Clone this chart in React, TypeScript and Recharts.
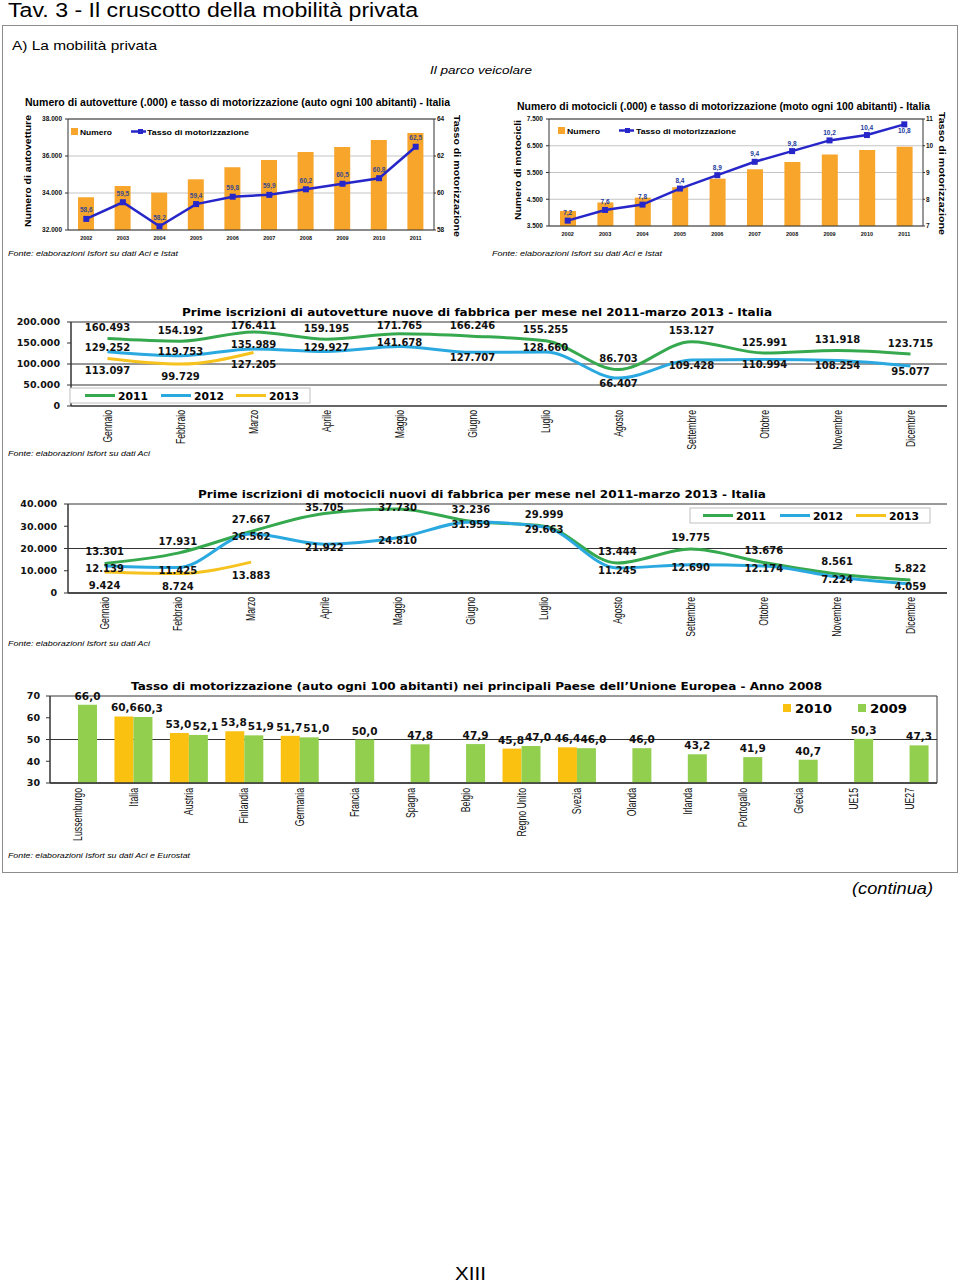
import React from 'react';
import { ComposedChart, BarChart, Bar, Line, XAxis, YAxis, CartesianGrid, LabelList, ReferenceLine } from 'recharts';

// ---------- DATA ----------
const anni = ['2002', '2003', '2004', '2005', '2006', '2007', '2008', '2009', '2010', '2011'];
const autoNumero = [33770, 34380, 34020, 34740, 35390, 35780, 36220, 36490, 36870, 37240];
const autoTasso = [58.6, 59.5, 58.2, 59.4, 59.8, 59.9, 60.2, 60.5, 60.8, 62.5];
const motoNumero = [4060, 4380, 4560, 4950, 5270, 5620, 5890, 6170, 6340, 6460];
const motoTasso = [7.2, 7.6, 7.8, 8.4, 8.9, 9.4, 9.8, 10.2, 10.4, 10.8];
const autoTicksSx = [32000, 34000, 36000, 38000];
const autoTicksDx = [58, 60, 62, 64];
const motoTicksSx = [3500, 4500, 5500, 6500, 7500];
const motoTicksDx = [7, 8, 9, 10, 11];

const mesi = ['Gennaio', 'Febbraio', 'Marzo', 'Aprile', 'Maggio', 'Giugno', 'Luglio', 'Agosto', 'Settembre', 'Ottobre', 'Novembre', 'Dicembre'];
const auto2011 = [160493, 154192, 176411, 159195, 171765, 166246, 155255, 86703, 153127, 125991, 131918, 123715];
const auto2012 = [129252, 119753, 135989, 129927, 141678, 127707, 128660, 66407, 109428, 110994, 108254, 95077];
const auto2013 = [113097, 99729, 127205];
const iscrAutoTicks = [0, 50000, 100000, 150000, 200000];
const iscrAutoGrid = [50000, 100000, 200000];
const moto2011 = [13301, 17931, 27667, 35705, 37730, 32236, 29999, 13444, 19775, 13676, 8561, 5822];
const moto2012 = [12139, 11425, 26562, 21922, 24810, 31959, 29663, 11245, 12690, 12174, 7224, 4059];
const moto2013 = [9424, 8724, 13883];
const iscrMotoTicks = [0, 10000, 20000, 30000, 40000];

const paesi = ['Lussemburgo', 'Italia', 'Austria', 'Finlandia', 'Germania', 'Francia', 'Spagna', 'Belgio', 'Regno Unito', 'Svezia', 'Olanda', 'Irlanda', 'Portogallo', 'Grecia', 'UE15', 'UE27'];
const tasso2010: (number | null)[] = [null, 60.6, 53.0, 53.8, 51.7, null, null, null, 45.8, 46.4, null, null, null, null, null, null];
const tasso2009 = [66.0, 60.3, 52.1, 51.9, 51.0, 50.0, 47.8, 47.9, 47.0, 46.0, 46.0, 43.2, 41.9, 40.7, 50.3, 47.3];
const paesiTicks = [30, 40, 50, 60, 70];

// ---------- HELPERS ----------
const F_SANS = "'Liberation Sans', Arial, sans-serif";
const F_VERD = "'DejaVu Sans', Verdana, sans-serif";

const C_ORANGE = '#F7A52B';
const C_BLUE_LINE = '#2626c9';
const C_GREEN = '#36a94f';
const C_CYAN = '#2aa9e0';
const C_YELLOW = '#f5c21e';
const C_BAR_GREEN = '#92cf4f';
const C_BAR_YELLOW = '#fbc110';

const fmtK = (v: number) => String(Math.round(v)).replace(/\B(?=(\d{3})+(?!\d))/g, '.');
const fmt1 = (v: number) => v.toFixed(1).replace('.', ',');

const parcoAuto = anni.map((a, i) => ({ anno: a, numero: autoNumero[i], tasso: autoTasso[i] }));
const parcoMoto = anni.map((a, i) => ({ anno: a, numero: motoNumero[i], tasso: motoTasso[i] }));
const iscrAuto = mesi.map((m, i) => ({ mese: m, a2011: auto2011[i], a2012: auto2012[i], a2013: auto2013[i] ?? null }));
const iscrMoto = mesi.map((m, i) => ({ mese: m, a2011: moto2011[i], a2012: moto2012[i], a2013: moto2013[i] ?? null }));
const tassoUE = paesi.map((p, i) => ({ paese: p, t2010: tasso2010[i], t2009: tasso2009[i] }));

const squareDot = (labelColor: string, belowIndex: number, above: number) => (p: any) => {
  const { cx, cy, index, value } = p;
  if (cx == null || cy == null) return <g key={`sq${index}`} />;
  const below = index === belowIndex;
  return (
    <g key={`sq${index}`}>
      <rect x={cx - 3} y={cy - 3} width={6} height={6} fill={C_BLUE_LINE} />
      <text x={cx} y={below ? cy + 9 : cy - above} textAnchor="middle" fontSize={6.5} fontWeight="bold" fontFamily={F_SANS} fill={labelColor}>
        {fmt1(Number(value))}
      </text>
    </g>
  );
};

const labelDot = (dyFor: (i: number) => number, minY: number) => (p: any) => {
  const { cx, cy, index, payload, dataKey } = p;
  const v = p.value ?? (payload ? payload[dataKey] : null);
  if (cx == null || cy == null || v == null || Number.isNaN(cy)) return <g key={`ld${index}`} />;
  return (
    <text key={`ld${index}`} x={cx} y={Math.max(minY, cy + dyFor(index))} textAnchor="middle" fontSize={10} fontWeight="bold" fontFamily={F_VERD} fill="#111">
      {fmtK(Number(v))}
    </text>
  );
};

// bar value label; the green (2009) label is nudged right when a 2010 bar sits beside it
const barLabel = (isGreen: boolean) => (p: any) => {
  const vb = p.viewBox || p;
  const x = vb.x ?? p.x;
  const y = vb.y ?? p.y;
  const w = vb.width ?? p.width ?? 0;
  const v = p.value;
  if (v == null || x == null || y == null || v === '') return null;
  const idx = p.index;
  const paired = typeof idx === 'number' && tasso2010[idx] != null;
  const dx = paired ? (isGreen ? 7 : -1) : 0;
  return (
    <text x={x + w / 2 + dx} y={y - 5} textAnchor="middle" fontSize={10.5} fontWeight="bold" fontFamily={F_VERD} fill="#111">
      {fmt1(Number(v))}
    </text>
  );
};

const RotTick = (p: any) => {
  const { x, y, payload, fontSize, sx } = p;
  return (
    <g transform={`translate(${x},${y}) rotate(-90)`}>
      <text x={0} y={0} transform={`scale(${sx},1)`} textAnchor="end" dy="0.35em" fontSize={fontSize} fontFamily={F_SANS} fill="#111">
        {payload.value}
      </text>
    </g>
  );
};

const T = ({ x, y, len, size, family = F_SANS, weight = 'normal', italic = false, anchor = 'start', rotate = 0, fill = '#000', children }: any) => (
  <text
    x={x}
    y={y}
    fontSize={size}
    fontFamily={family}
    fontWeight={weight}
    fontStyle={italic ? 'italic' : 'normal'}
    textLength={len}
    lengthAdjust="spacingAndGlyphs"
    textAnchor={anchor}
    transform={rotate ? `rotate(${rotate} ${x} ${y})` : undefined}
    fill={fill}
  >
    {children}
  </text>
);

const smallTick = { fontSize: 6.5, fontWeight: 'bold', fill: '#111', fontFamily: F_SANS };
const yearTick = { fontSize: 5.5, fontWeight: 'bold', fill: '#111', fontFamily: F_SANS };
const verdTick = { fontSize: 9.5, fontWeight: 'bold', fill: '#111', fontFamily: F_VERD };

// ---------- CHARTS ----------
function ParcoChart({ data, left, top, width, height, margin, ticksSx, ticksDx, wSx, wDx, labelColor, belowIndex, above }: any) {
  return (
    <div style={{ position: 'absolute', left, top }}>
      <ComposedChart width={width} height={height} data={data} margin={margin}>
        <CartesianGrid vertical={false} stroke="#c4c4c4" yAxisId="sx" />
        <XAxis dataKey="anno" interval={0} tickLine={false} axisLine={{ stroke: '#333' }} height={15} tickSize={3} tickMargin={3} tick={yearTick} />
        <YAxis yAxisId="sx" domain={[ticksSx[0], ticksSx[ticksSx.length - 1]]} ticks={ticksSx} width={wSx} tickFormatter={fmtK} tickSize={3} tickMargin={3} axisLine={{ stroke: '#333' }} tickLine={{ stroke: '#333' }} tick={smallTick} />
        <YAxis yAxisId="dx" orientation="right" domain={[ticksDx[0], ticksDx[ticksDx.length - 1]]} ticks={ticksDx} width={wDx} tickSize={2} tickMargin={1} axisLine={{ stroke: '#333' }} tickLine={{ stroke: '#333' }} tick={smallTick} />
        <ReferenceLine yAxisId="sx" y={ticksSx[ticksSx.length - 1]} stroke="#333" />
        <Bar yAxisId="sx" dataKey="numero" fill={C_ORANGE} barSize={16} isAnimationActive={false} />
        <Line yAxisId="dx" dataKey="tasso" type="linear" stroke={C_BLUE_LINE} strokeWidth={2.5} dot={squareDot(labelColor, belowIndex, above)} isAnimationActive={false} />
      </ComposedChart>
    </div>
  );
}

function IscrChart({ data, left, top, width, height, margin, xh, pad, ticks, yW, grid, dy11, dy12, dy13 }: any) {
  const minY = margin.top + 7;
  return (
    <div style={{ position: 'absolute', left, top }}>
      <ComposedChart width={width} height={height} data={data} margin={margin}>
        {grid ? grid.map((g: number) => <ReferenceLine key={g} y={g} stroke="#333" />) : <CartesianGrid vertical={false} stroke="#333" />}
        <XAxis dataKey="mese" interval={0} padding={{ left: pad, right: pad }} tickLine={false} tickSize={0} tickMargin={4} height={xh} axisLine={{ stroke: '#333', strokeWidth: 1.5 }} tick={<RotTick fontSize={12} sx={0.72} />} />
        <YAxis domain={[ticks[0], ticks[ticks.length - 1]]} ticks={ticks} width={yW} tickFormatter={fmtK} tickSize={4} tickMargin={7} axisLine={{ stroke: '#333', strokeWidth: 1.5 }} tickLine={{ stroke: '#333' }} tick={verdTick} />
        <Line dataKey="a2011" type="monotone" stroke={C_GREEN} strokeWidth={3} dot={labelDot(dy11, minY)} isAnimationActive={false} />
        <Line dataKey="a2012" type="monotone" stroke={C_CYAN} strokeWidth={3} dot={labelDot(dy12, minY)} isAnimationActive={false} />
        <Line dataKey="a2013" type="monotone" stroke={C_YELLOW} strokeWidth={3} dot={labelDot(dy13, minY)} isAnimationActive={false} />
      </ComposedChart>
    </div>
  );
}

function UEChart() {
  return (
    <div style={{ position: 'absolute', left: 0, top: 675 }}>
      <BarChart width={960} height={180} data={tassoUE} margin={{ top: 21, right: 23, bottom: 6, left: 10 }} barGap={0}>
        <CartesianGrid vertical={false} stroke="#333" />
        <XAxis dataKey="paese" interval={0} tickLine={false} tickSize={0} tickMargin={5} height={66} axisLine={{ stroke: '#333', strokeWidth: 1.5 }} tick={<RotTick fontSize={12.5} sx={0.7} />} />
        <YAxis domain={[30, 70]} ticks={paesiTicks} width={40} tickSize={4} tickMargin={6} axisLine={{ stroke: '#333', strokeWidth: 1.5 }} tickLine={{ stroke: '#333' }} tick={verdTick} />
        <ReferenceLine x="UE27" position="end" stroke="#333" />
        <Bar dataKey="t2010" fill={C_BAR_YELLOW} barSize={19} isAnimationActive={false}>
          <LabelList dataKey="t2010" content={barLabel(false)} />
        </Bar>
        <Bar dataKey="t2009" fill={C_BAR_GREEN} barSize={19} isAnimationActive={false}>
          <LabelList dataKey="t2009" content={barLabel(true)} />
        </Bar>
      </BarChart>
    </div>
  );
}

const SeriesLegend = ({ x, y, w, h, items }: any) => (
  <g>
    <rect x={x} y={y} width={w} height={h} fill="#fff" stroke="#c0c0c0" />
    {items.map((it: any) => (
      <g key={it.label}>
        <line x1={it.lx} x2={it.lx + 30} y1={y + h / 2} y2={y + h / 2} stroke={it.color} strokeWidth={3} />
        <T x={it.lx + 33} y={y + h / 2 + 4} len={30} size={10.5} family={F_VERD} weight="bold">{it.label}</T>
      </g>
    ))}
  </g>
);

export default function App() {
  return (
    <div style={{ position: 'absolute', left: 0, top: 0, width: 960, height: 1283, background: '#fff', overflow: 'hidden' }}>
      <ParcoChart
        data={parcoAuto}
        left={0}
        top={90}
        width={470}
        height={160}
        margin={{ top: 29, right: 18, bottom: 5, left: 28 }}
        ticksSx={autoTicksSx}
        ticksDx={autoTicksDx}
        wSx={40}
        wDx={18}
        labelColor="#3b4a8c"
        belowIndex={-1}
        above={6.5}
      />
      <ParcoChart
        data={parcoMoto}
        left={490}
        top={95}
        width={465}
        height={150}
        margin={{ top: 24, right: 16, bottom: 4, left: 19 }}
        ticksSx={motoTicksSx}
        ticksDx={motoTicksDx}
        wSx={40}
        wDx={16}
        labelColor="#1c3a9c"
        belowIndex={9}
        above={5.5}
      />
      <IscrChart
        data={iscrAuto}
        left={0}
        top={300}
        width={960}
        height={155}
        margin={{ top: 22, right: 13, bottom: 4, left: 10 }}
        xh={45}
        pad={36.5}
        ticks={iscrAutoTicks}
        yW={61}
        grid={iscrAutoGrid}
        dy11={() => -7.5}
        dy12={(i: number) => (i <= 4 || i === 6 ? -0.5 : 8.5)}
        dy13={() => 15.5}
      />
      <IscrChart
        data={iscrMoto}
        left={0}
        top={480}
        width={960}
        height={165}
        margin={{ top: 24, right: 13, bottom: 4, left: 8 }}
        xh={48}
        pad={36.6}
        ticks={iscrMotoTicks}
        yW={60}
        grid={null}
        dy11={() => -8.5}
        dy12={() => 6.5}
        dy13={() => 16.5}
      />
      <UEChart />

      <svg width={960} height={1283} style={{ position: 'absolute', left: 0, top: 0, pointerEvents: 'none' }}>
        <T x={8} y={17} len={410} size={20}>Tav. 3 - Il cruscotto della mobilità privata</T>
        <rect x={2.5} y={25.5} width={955} height={847} fill="none" stroke="#8c8c8c" />
        <T x={12} y={50} len={145} size={13}>A) La mobilità privata</T>
        <T x={430} y={74} len={102} size={11.5} italic>Il parco veicolare</T>

        {/* Chart 1 texts */}
        <T x={25} y={106} len={425} size={11} weight="bold">Numero di autovetture (.000) e tasso di motorizzazione (auto ogni 100 abitanti) - Italia</T>
        <T x={31} y={227} len={112} size={9.5} weight="bold" rotate={-90}>Numero di autovetture</T>
        <T x={454} y={115} len={122} size={9.5} weight="bold" rotate={90}>Tasso di motorizzazione</T>
        <rect x={71} y={128} width={7} height={7} fill={C_ORANGE} />
        <T x={80} y={134.5} len={32} size={8} weight="bold">Numero</T>
        <line x1={131} x2={146} y1={131.5} y2={131.5} stroke={C_BLUE_LINE} strokeWidth={2.5} />
        <rect x={138} y={129} width={5} height={5} fill={C_BLUE_LINE} />
        <T x={147} y={134.5} len={102} size={8} weight="bold">Tasso di motorizzazione</T>
        <T x={8} y={256} len={170} size={8} italic>Fonte: elaborazioni Isfort su dati Aci e Istat</T>

        {/* Chart 2 texts */}
        <T x={517} y={110} len={413} size={11} weight="bold">Numero di motocicli (.000) e tasso di motorizzazione (moto ogni 100 abitanti) - Italia</T>
        <T x={521} y={220} len={100} size={9.5} weight="bold" rotate={-90}>Numero di motocicli</T>
        <T x={939} y={112} len={123} size={9.5} weight="bold" rotate={90}>Tasso di motorizzazione</T>
        <rect x={558} y={127} width={7} height={7} fill={C_ORANGE} />
        <T x={567} y={133.5} len={33} size={8} weight="bold">Numero</T>
        <line x1={619} x2={634} y1={130.5} y2={130.5} stroke={C_BLUE_LINE} strokeWidth={2.5} />
        <rect x={625} y={128} width={5} height={5} fill={C_BLUE_LINE} />
        <T x={636} y={133.5} len={100} size={8} weight="bold">Tasso di motorizzazione</T>
        <T x={492} y={256} len={170} size={8} italic>Fonte: elaborazioni Isfort su dati Aci e Istat</T>

        {/* Chart 3 texts */}
        <T x={182} y={316} len={590} size={11} family={F_VERD} weight="bold">Prime iscrizioni di autovetture nuove di fabbrica per mese nel 2011-marzo 2013 - Italia</T>
        <SeriesLegend
          x={70}
          y={388}
          w={240}
          h={15}
          items={[
            { label: '2011', color: C_GREEN, lx: 85 },
            { label: '2012', color: C_CYAN, lx: 161 },
            { label: '2013', color: C_YELLOW, lx: 236 },
          ]}
        />
        <T x={8} y={456} len={142} size={8} italic>Fonte: elaborazioni Isfort su dati Aci</T>

        {/* Chart 4 texts */}
        <T x={198} y={498} len={568} size={11} family={F_VERD} weight="bold">Prime iscrizioni di motocicli nuovi di fabbrica per mese nel 2011-marzo 2013 - Italia</T>
        <SeriesLegend
          x={690}
          y={508}
          w={240}
          h={15}
          items={[
            { label: '2011', color: C_GREEN, lx: 703 },
            { label: '2012', color: C_CYAN, lx: 780 },
            { label: '2013', color: C_YELLOW, lx: 856 },
          ]}
        />
        <T x={8} y={646} len={142} size={8} italic>Fonte: elaborazioni Isfort su dati Aci</T>

        {/* Chart 5 texts */}
        <T x={131} y={690} len={691} size={11} family={F_VERD} weight="bold">Tasso di motorizzazione (auto ogni 100 abitanti) nei principali Paese dell’Unione Europea - Anno 2008</T>
        <rect x={783} y={704} width={8} height={8} fill={C_BAR_YELLOW} />
        <T x={795} y={712.5} len={37} size={13} family={F_VERD} weight="bold">2010</T>
        <rect x={858} y={704} width={8} height={8} fill={C_BAR_GREEN} />
        <T x={870} y={712.5} len={37} size={13} family={F_VERD} weight="bold">2009</T>
        <T x={8} y={858} len={182} size={8} italic>Fonte: elaborazioni Isfort su dati Aci e Eurostat</T>

        <T x={852} y={894} len={81} size={17} italic>(continua)</T>
        <T x={455} y={1280} len={31} size={18}>XIII</T>
      </svg>
    </div>
  );
}
